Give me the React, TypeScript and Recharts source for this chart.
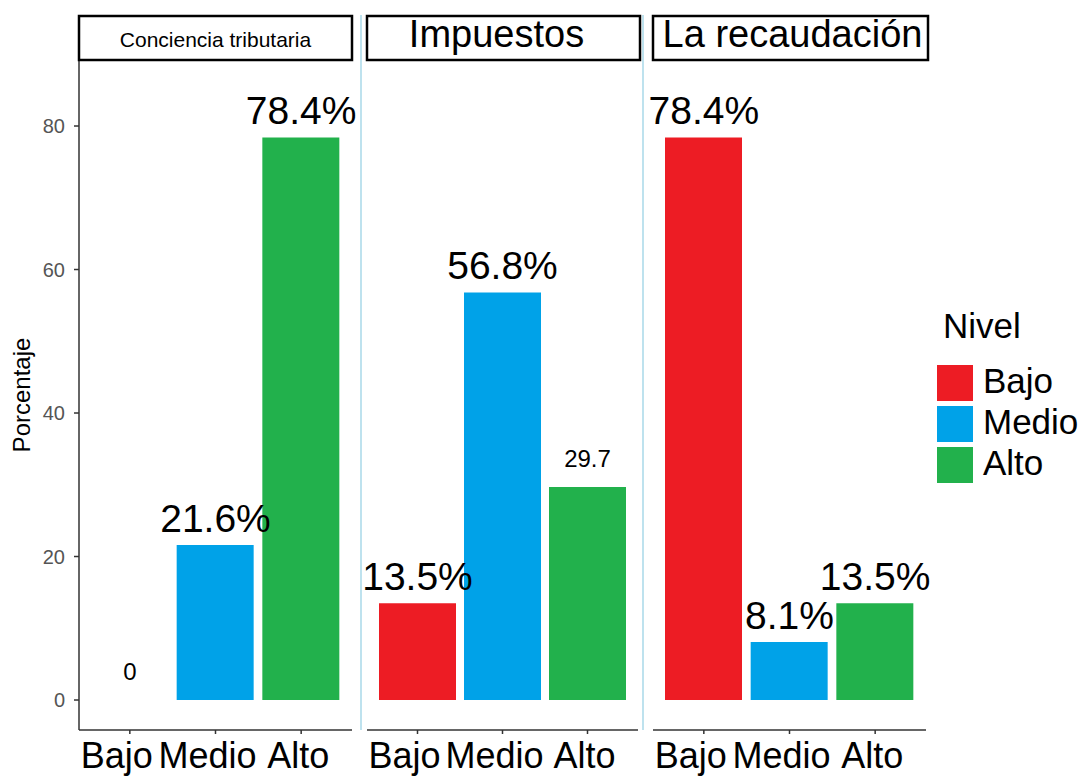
import React from 'react';
import { ComposedChart, Bar, Line, XAxis, YAxis, Cell } from 'recharts';

const levels = ['Bajo', 'Medio', 'Alto'];
const facets = ['Conciencia tributaria', 'Impuestos', 'La recaudación'];
const concienciaValues = [0, 21.6, 78.4];
const impuestosValues = [13.5, 56.8, 29.7];
const recaudacionValues = [78.4, 8.1, 13.5];
const concienciaLabels = ['0', '21.6%', '78.4%'];
const impuestosLabels = ['13.5%', '56.8%', '29.7'];
const recaudacionLabels = ['78.4%', '8.1%', '13.5%'];
const yTicks = [0, 20, 40, 60, 80];
const levelColors = ['#ED1C24', '#00A2E8', '#22B14C'];
const legendTitle = 'Nivel';
const yTitle = 'Porcentaje';

const FONT = 'Arial, "Liberation Sans", sans-serif';
const Y_DOMAIN: [number, number] = [-4.18, 89.2];
// the original's category labels sit a little left of their ticks
const TICK_SHIFT = [-13, -8, -3];

// labels ride on an invisible line so that a zero-height bar still gets its text
const makeLabel = (labels: string[]) => (props: any) => {
  const { x, y, index } = props;
  const value = labels[index];
  if (value === undefined) return null;
  const big = value.includes('%');
  return (
    <text
      key={index}
      x={x}
      y={y - (big ? 13 : 20)}
      textAnchor="middle"
      fontSize={big ? 39 : 24}
      fill="#000"
      fontFamily={FONT}
    >
      {value}
    </text>
  );
};

const CategoryTick = (props: any) => {
  const { x, y, payload, index } = props;
  return (
    <text x={x + (TICK_SHIFT[index] || 0)} y={y + 26} textAnchor="middle" fontSize={36} fill="#000" fontFamily={FONT}>
      {payload.value}
    </text>
  );
};

interface PanelProps {
  values: number[];
  labels: string[];
  left: number;
  width: number;
  margin: { top: number; right: number; bottom: number; left: number };
  showYAxis?: boolean;
}

const Panel: React.FunctionComponent<PanelProps> = ({ values, labels, left, width, margin, showYAxis }) => {
  const data = levels.map((name, i) => ({ name, value: values[i] }));
  return (
    <div style={{ position: 'absolute', left, top: 0 }}>
      <ComposedChart width={width} height={776} data={data} margin={margin}>
        <XAxis
          dataKey="name"
          interval={0}
          height={46}
          padding={{ left: 8, right: 8 }}
          axisLine={{ stroke: '#333', strokeWidth: 1.5 }}
          tickLine={{ stroke: '#333', strokeWidth: 1.5 }}
          tickSize={4}
          tickMargin={8}
          tick={<CategoryTick />}
        />
        <YAxis
          hide={!showYAxis}
          width={79}
          domain={Y_DOMAIN}
          allowDataOverflow
          ticks={yTicks}
          axisLine={{ stroke: '#333', strokeWidth: 1.5 }}
          tickLine={{ stroke: '#333', strokeWidth: 1.5 }}
          tickSize={5}
          tickMargin={9}
          tick={{ fill: '#555', fontSize: 20, fontFamily: FONT }}
          label={{
            value: yTitle,
            angle: -90,
            position: 'center',
            dx: -18,
            fontSize: 24,
            fill: '#000',
            fontFamily: FONT,
          }}
        />
        <Bar dataKey="value" barSize={77} isAnimationActive={false}>
          {data.map((d, i) => (
            <Cell key={d.name} fill={levelColors[i]} />
          ))}
        </Bar>
        <Line
          dataKey="value"
          stroke="none"
          dot={false}
          activeDot={false}
          isAnimationActive={false}
          label={makeLabel(labels)}
        />
      </ComposedChart>
    </div>
  );
};

const strips = [
  { x: 79, w: 273, size: 21, dx: 0 },
  { x: 367, w: 273, size: 38, dx: -7 },
  { x: 653, w: 275, size: 38, dx: 2 },
];

export default function App() {
  return (
    <div style={{ position: 'absolute', left: 0, top: 0, width: 1087, height: 776, background: '#fff' }}>
      <Panel values={concienciaValues} labels={concienciaLabels} left={0} width={360}
        margin={{ top: 60, right: 8, bottom: 0, left: 0 }} showYAxis />
      <Panel values={impuestosValues} labels={impuestosLabels} left={360} width={285}
        margin={{ top: 60, right: 7, bottom: 0, left: 7 }} />
      <Panel values={recaudacionValues} labels={recaudacionLabels} left={645} width={290}
        margin={{ top: 60, right: 9, bottom: 0, left: 8 }} />
      <svg width={1087} height={776} style={{ position: 'absolute', left: 0, top: 0, pointerEvents: 'none' }}>
        <line x1={361} x2={361} y1={15} y2={730} stroke="#a9d9e8" strokeWidth={1.5} />
        <line x1={643} x2={643} y1={15} y2={730} stroke="#a9d9e8" strokeWidth={1.5} />
        {strips.map((s, i) => (
          <g key={facets[i]}>
            <rect x={s.x} y={16} width={s.w} height={44} fill="#fff" stroke="#000" strokeWidth={2.5} />
            <text x={s.x + s.w / 2 + s.dx} y={47} textAnchor="middle" fontSize={s.size} fontFamily={FONT} fill="#000">
              {facets[i]}
            </text>
          </g>
        ))}
        <text x={943} y={338} fontSize={35} fontFamily={FONT} fill="#000">{legendTitle}</text>
        {levels.map((l, i) => (
          <g key={l}>
            <rect x={937} y={365 + i * 41} width={36} height={36} fill={levelColors[i]} />
            <text x={983} y={393 + i * 41} fontSize={35} fontFamily={FONT} fill="#000">{l}</text>
          </g>
        ))}
      </svg>
    </div>
  );
}
